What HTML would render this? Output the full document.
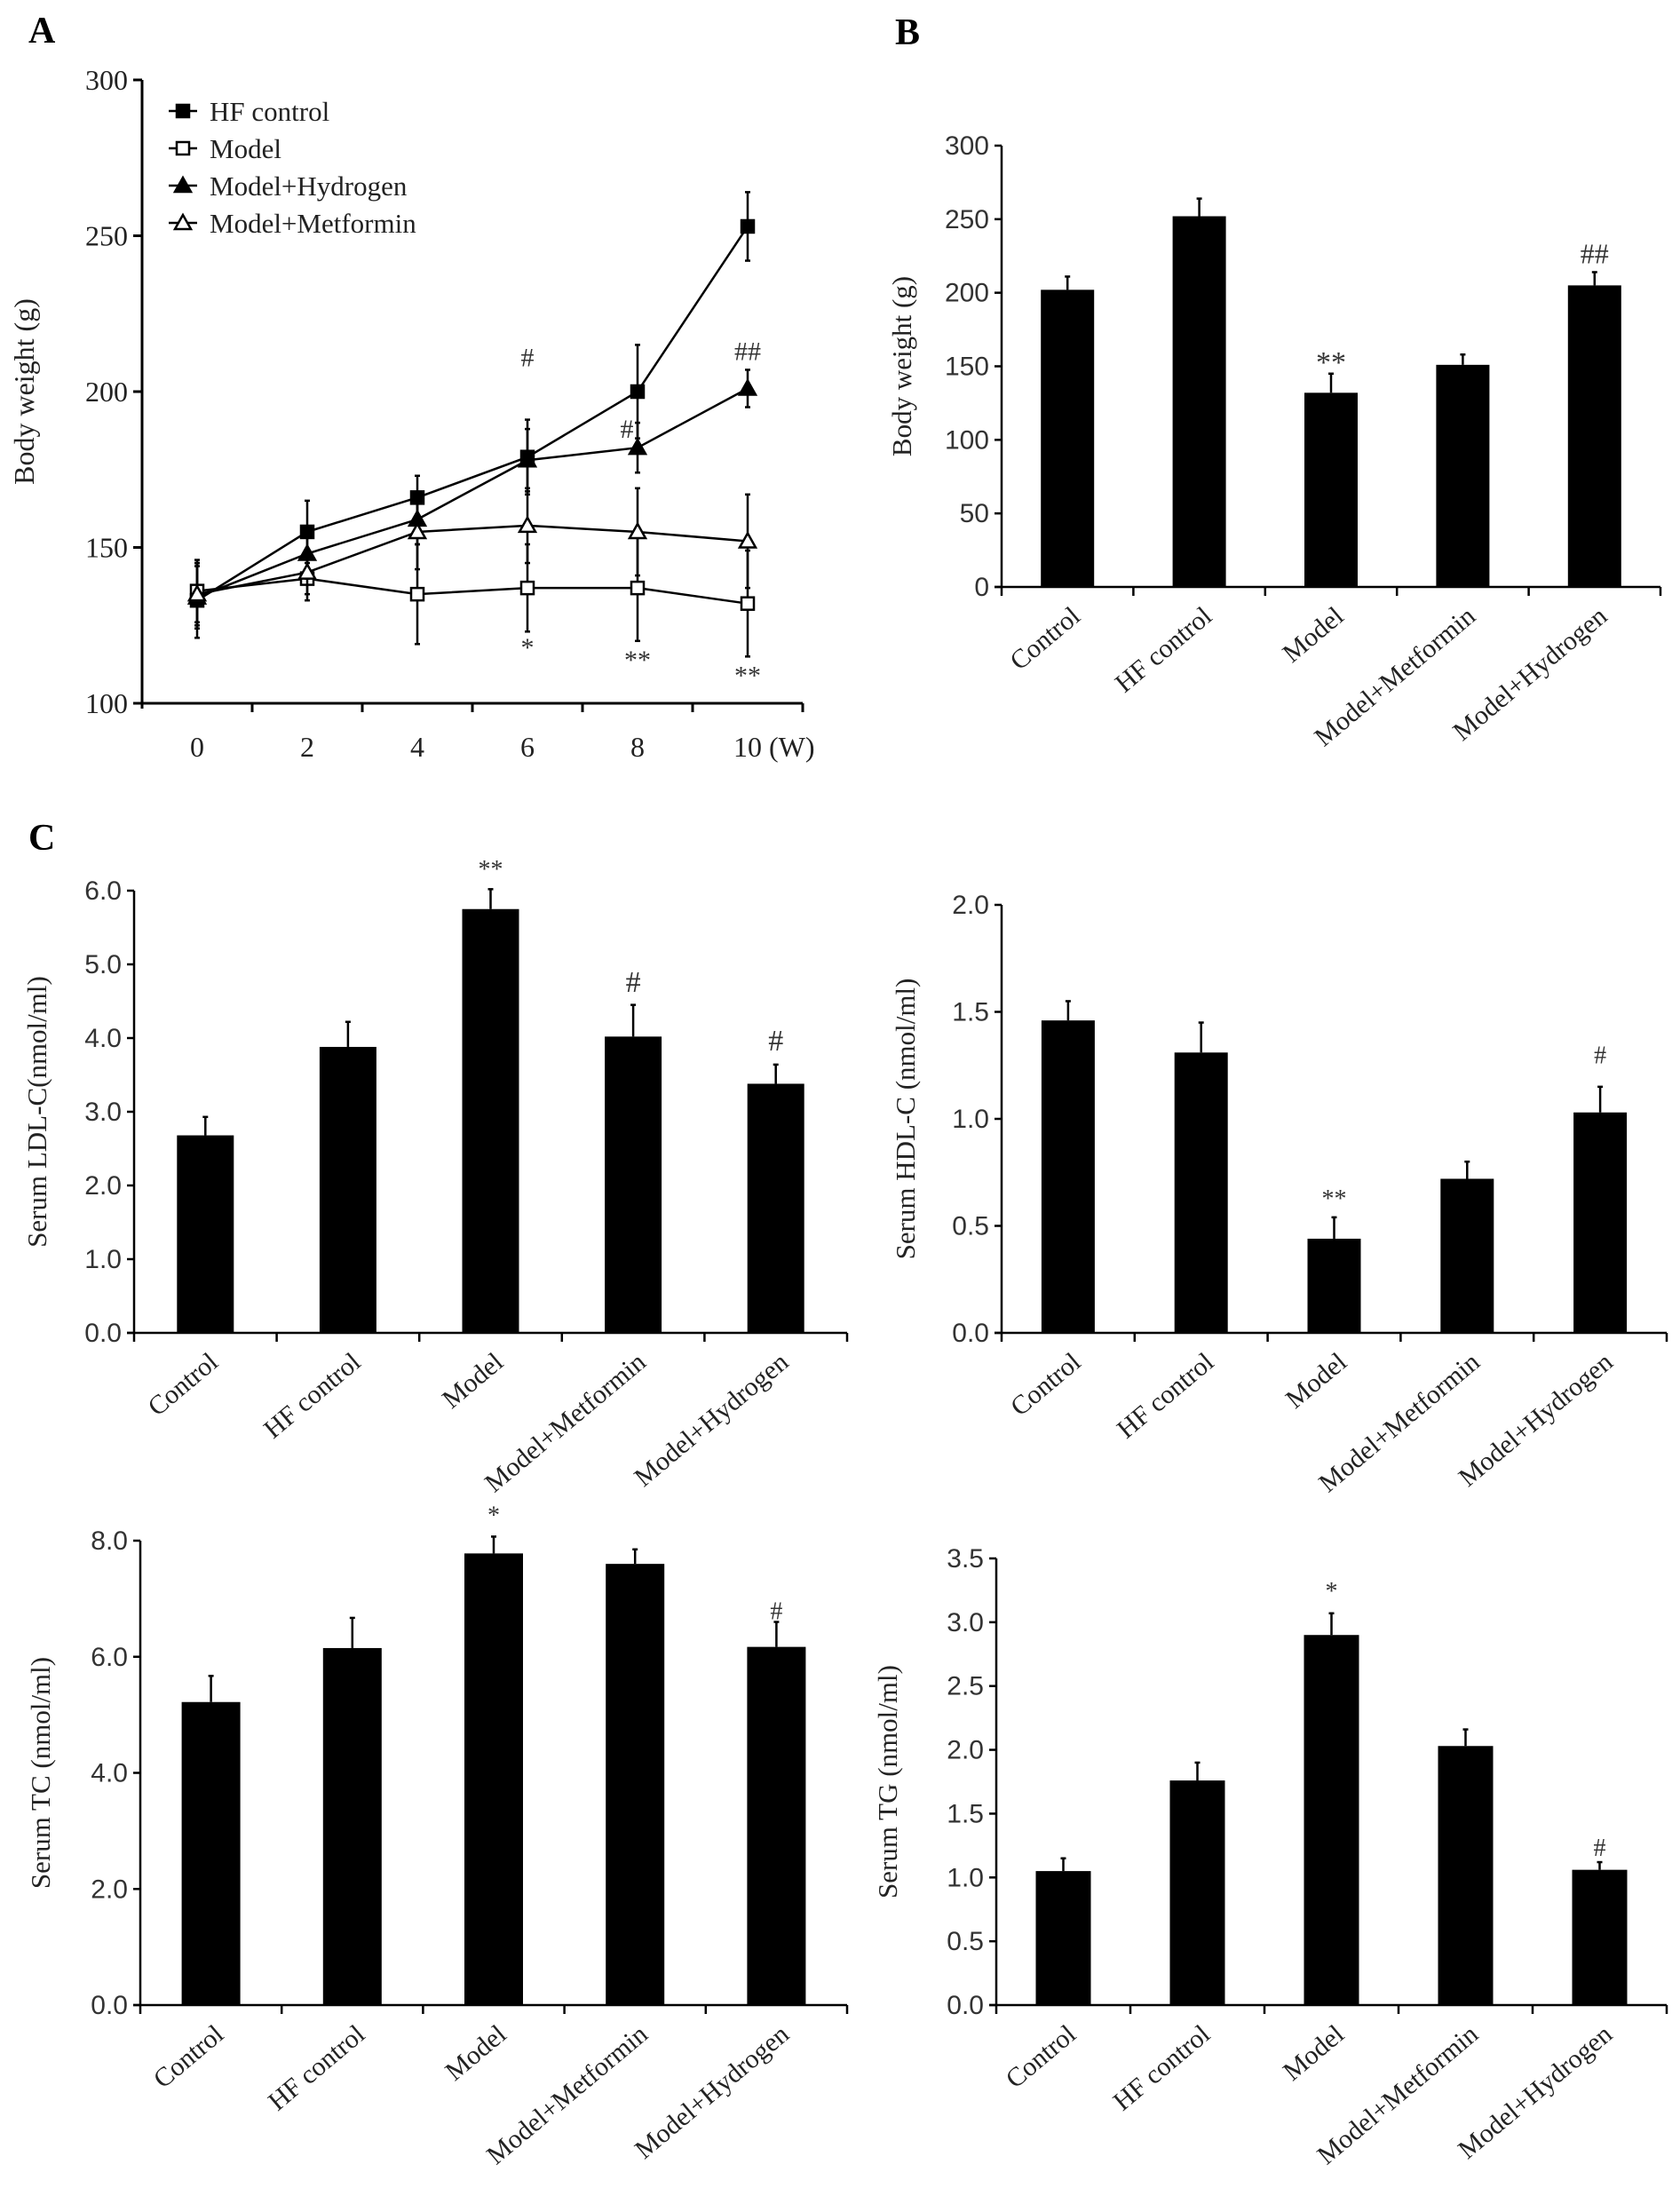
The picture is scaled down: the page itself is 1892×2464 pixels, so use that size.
<!DOCTYPE html>
<html><head><meta charset="utf-8">
<style>
html,body{margin:0;padding:0;background:#fff;}
svg{display:block;}
.serif{font-family:"Liberation Serif",serif;}
.sans{font-family:"Liberation Sans",sans-serif;}
</style></head>
<body>
<svg id="fig" width="1892" height="2464" viewBox="0 0 1892 2464" xmlns="http://www.w3.org/2000/svg">
<text x="32" y="48" class="serif" font-size="42" font-weight="bold">A</text>
<text x="1008" y="50" class="serif" font-size="42" font-weight="bold">B</text>
<text x="32" y="957" class="serif" font-size="42" font-weight="bold">C</text>
<g id="gA"></g><g id="gB"></g><g id="gLDL"></g><g id="gHDL"></g><g id="gTC"></g><g id="gTG"></g>
</svg>
<script>
// ---------- Panel A data ----------
const weeks = ["0","2","4","6","8","10 (W)"];
const yTicksA = [100,150,200,250,300];
const hfMean = [133,155,166,179,200,253];
const hfErr = [12,10,7,12,15,11];
const modelMean = [136,140,135,137,137,132];
const modelErr = [10,7,16,14,17,17];
const hydMean = [134,148,159,178,182,201];
const hydErr = [10,8,8,10,8,6];
const metMean = [135,142,155,157,155,152];
const metErr = [10,7,12,12,14,15];
const seriesNames = ["HF control","Model","Model+Hydrogen","Model+Metformin"];
const annotA = [{i:3,v:211,t:"#"},{i:4,v:188,t:"#",dx:-12},{i:5,v:213,t:"##"},{i:3,v:118,t:"*"},{i:4,v:114,t:"**"},{i:5,v:109,t:"**"}];

// ---------- Bar chart data ----------
const groups = ["Control","HF control","Model","Model+Metformin","Model+Hydrogen"];
const bwMean = [202,252,132,151,205];
const bwErr = [9,12,13,7,9];
const bwTicks = ["0","50","100","150","200","250","300"];
const ldlMean = [2.68,3.88,5.75,4.02,3.38];
const ldlErr = [0.25,0.34,0.27,0.43,0.26];
const ldlTicks = ["0.0","1.0","2.0","3.0","4.0","5.0","6.0"];
const hdlMean = [1.46,1.31,0.44,0.72,1.03];
const hdlErr = [0.09,0.14,0.10,0.08,0.12];
const hdlTicks = ["0.0","0.5","1.0","1.5","2.0"];
const tcMean = [5.22,6.15,7.78,7.60,6.17];
const tcErr = [0.45,0.52,0.29,0.25,0.43];
const tcTicks = ["0.0","2.0","4.0","6.0","8.0"];
const tgMean = [1.05,1.76,2.90,2.03,1.06];
const tgErr = [0.10,0.14,0.17,0.13,0.06];
const tgTicks = ["0.0","0.5","1.0","1.5","2.0","2.5","3.0","3.5"];

const NS="http://www.w3.org/2000/svg";
function mk(parent,tag,attrs,text){const e=document.createElementNS(NS,tag);for(const k in attrs)e.setAttribute(k,attrs[k]);if(text!==undefined)e.textContent=text;parent.appendChild(e);return e;}

// ---------- Panel A ----------
(function(){
  const g=document.getElementById('gA');
  const x0=160,cw=124,yTop=90,yBot=792,vMin=100,vMax=300;
  const X=i=>x0+cw*(i+0.5);
  const Y=v=>yBot-(v-vMin)/(vMax-vMin)*(yBot-yTop);
  let e=mk(g,'line',{x1:x0,y1:yTop,x2:x0,y2:yBot+6,stroke:'#000','stroke-width':3});
  
  
  e=mk(g,'line',{x1:x0-10,y1:yBot,x2:x0+cw*6,y2:yBot,stroke:'#000','stroke-width':3});
  
  
  yTicksA.forEach(v=>{
    mk(g,'line',{x1:x0-10,y1:Y(v),x2:x0,y2:Y(v),stroke:'#000','stroke-width':3});
    const t=mk(g,'text',{x:x0-16,y:Y(v)+11,'text-anchor':'end','font-size':32,class:'serif',fill:'#222'},String(v));
    
    
  });
  for(let k=1;k<=6;k++) mk(g,'line',{x1:x0+cw*k,y1:yBot,x2:x0+cw*k,y2:yBot+10,stroke:'#000','stroke-width':3});
  weeks.forEach((w,i)=>{
    const t=mk(g,'text',{x:X(i),y:yBot+60,'text-anchor':i===5?'start':'middle','font-size':32,class:'serif',fill:'#222'},w);
    if(i===5)t.setAttribute('x',X(i)-16);
    
    
  });
  const t=mk(g,'text',{x:0,y:0,transform:`translate(38,${(yTop+yBot)/2}) rotate(-90)`,'text-anchor':'middle','font-size':32,class:'serif',fill:'#222'},'Body weight (g)');
  
  
  const series=[[hfMean,hfErr,'sqf'],[modelMean,modelErr,'sqo'],[hydMean,hydErr,'trf'],[metMean,metErr,'tro']];
  function marker(p,type,cx,cy){
    if(type==='sqf'||type==='sqo') return mk(p,'rect',{x:cx-7,y:cy-7,width:14,height:14,fill:type==='sqf'?'#000':'#fff',stroke:'#000','stroke-width':2.5});
    return mk(p,'polygon',{points:`${cx},${cy-9} ${cx-9},${cy+7} ${cx+9},${cy+7}`,fill:type==='trf'?'#000':'#fff',stroke:'#000','stroke-width':2.5});
  }
  series.forEach(([m,er,type],si)=>{
    const sg=mk(g,'g',{});
    
    
    m.forEach((v,i)=>{
      mk(sg,'line',{x1:X(i),y1:Y(v+er[i]),x2:X(i),y2:Y(v-er[i]),stroke:'#000','stroke-width':2.5});
      mk(sg,'line',{x1:X(i)-3,y1:Y(v+er[i]),x2:X(i)+3,y2:Y(v+er[i]),stroke:'#000','stroke-width':2.5});
      mk(sg,'line',{x1:X(i)-3,y1:Y(v-er[i]),x2:X(i)+3,y2:Y(v-er[i]),stroke:'#000','stroke-width':2.5});
    });
    mk(sg,'polyline',{points:m.map((v,i)=>X(i)+','+Y(v)).join(' '),fill:'none',stroke:'#000','stroke-width':2.5});
    m.forEach((v,i)=>{const mm=marker(sg,type,X(i),Y(v));});
  });
  annotA.forEach(a=>{
    const t=mk(g,'text',{x:X(a.i)+(a.dx||0),y:Y(a.v)+10,'text-anchor':'middle','font-size':30,class:'serif',fill:'#333'},a.t);
    
    
  });
  const types=['sqf','sqo','trf','tro'];
  seriesNames.forEach((n,i)=>{
    const ly=125+i*42;
    const lg=mk(g,'g',{});
    
    
    mk(lg,'line',{x1:190,y1:ly,x2:222,y2:ly,stroke:'#000','stroke-width':2.5});
    marker(lg,types[i],206,ly);
    mk(lg,'text',{x:236,y:ly+11,'font-size':31,class:'serif',fill:'#222'},n);
  });
})();

// ---------- Generic bar chart ----------
function barChart(id,prefix,cfg,means,errs,ticks,annots){
  const g=document.getElementById(id);
  const {x0,x1,yTop,yBot,vMax,title,titleX,bw,lblSize}=cfg;
  const n=groups.length,cw=(x1-x0)/n;
  const X=i=>x0+cw*(i+0.5);
  const Y=v=>yBot-v/vMax*(yBot-yTop);
  let e=mk(g,'line',{x1:x0,y1:yTop,x2:x0,y2:yBot+10,stroke:'#000','stroke-width':2.5});
  
  
  e=mk(g,'line',{x1:x0-8,y1:yBot,x2:x1,y2:yBot,stroke:'#000','stroke-width':2.5});
  
  
  for(let k=1;k<=n;k++) mk(g,'line',{x1:x0+cw*k,y1:yBot,x2:x0+cw*k,y2:yBot+10,stroke:'#000','stroke-width':2.5});
  ticks.forEach(s=>{
    const v=parseFloat(s);
    mk(g,'line',{x1:x0-8,y1:Y(v),x2:x0,y2:Y(v),stroke:'#000','stroke-width':2.5});
    const t=mk(g,'text',{x:x0-14,y:Y(v)+10,'text-anchor':'end','font-size':30,class:'sans',fill:'#333'},s);
    
    
  });
  means.forEach((v,i)=>{
    const r=mk(g,'rect',{x:X(i)-bw/2,y:Y(v),width:bw,height:yBot-Y(v),fill:'#000'});
    
    
    const top=Y(v+errs[i]);
    mk(g,'line',{x1:X(i),y1:Y(v),x2:X(i),y2:top,stroke:'#000','stroke-width':2.5});
    mk(g,'line',{x1:X(i)-3,y1:top,x2:X(i)+3,y2:top,stroke:'#000','stroke-width':2.5});
    const t=mk(g,'text',{x:0,y:0,transform:`translate(${X(i)+16},${yBot+36}) rotate(-40)`,'text-anchor':'end','font-size':lblSize,class:'serif',fill:'#222'},groups[i]);
    
    
  });
  annots.forEach(a=>{
    const t=mk(g,'text',{x:X(a.i),y:Y(a.v)+10,'text-anchor':'middle','font-size':a.s||28,class:'serif',fill:'#333'},a.t);
    
    
  });
  const t=mk(g,'text',{x:0,y:0,transform:`translate(${titleX},${(yTop+yBot)/2}) rotate(-90)`,'text-anchor':'middle','font-size':31,class:'serif',fill:'#222'},title);
  
  
}
barChart('gB','b',{x0:1128,x1:1870,yTop:164,yBot:661,vMax:300,title:'Body weight (g)',titleX:1026,bw:60,lblSize:30},bwMean,bwErr,bwTicks,[{i:2,v:152,t:'**',s:34},{i:4,v:226,t:'##',s:32}]);
barChart('gLDL','ldl',{x0:151,x1:954,yTop:1003,yBot:1501,vMax:6,title:'Serum LDL-C(nmol/ml)',titleX:52,bw:64,lblSize:30},ldlMean,ldlErr,ldlTicks,[{i:2,v:6.3,t:'**',s:28},{i:3,v:4.75,t:'#',s:34},{i:4,v:3.95,t:'#',s:34}]);
barChart('gHDL','hdl',{x0:1128,x1:1877,yTop:1019,yBot:1501,vMax:2,title:'Serum HDL-C (nmol/ml)',titleX:1030,bw:60,lblSize:30},hdlMean,hdlErr,hdlTicks,[{i:2,v:0.63,t:'**',s:28},{i:4,v:1.3,t:'#',s:28}]);
barChart('gTC','tc',{x0:158,x1:954,yTop:1735,yBot:2258,vMax:8,title:'Serum TC (nmol/ml)',titleX:56,bw:66,lblSize:30},tcMean,tcErr,tcTicks,[{i:2,v:8.45,t:'*',s:28},{i:4,v:6.8,t:'#',s:28}]);
barChart('gTG','tg',{x0:1122,x1:1877,yTop:1755,yBot:2258,vMax:3.5,title:'Serum TG (nmol/ml)',titleX:1010,bw:62,lblSize:30},tgMean,tgErr,tgTicks,[{i:2,v:3.25,t:'*',s:28},{i:4,v:1.24,t:'#',s:28}]);
</script>
</body></html>
